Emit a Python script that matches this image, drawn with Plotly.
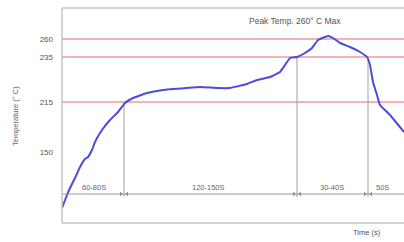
import plotly.graph_objects as go

# ---- data (display units: x = time axis units, y = temperature axis units) ----
time_pts = [0, 5, 8, 13, 18, 23, 26, 30, 33, 40, 48, 56, 63, 71, 85, 101, 125, 138,
            155, 168, 185, 195, 208, 218, 223, 228, 235, 243, 250, 256, 266, 271,
            278, 288, 298, 305, 308, 311, 315, 318, 328, 342]
temp_pts = [15, 28, 35, 45, 56, 64, 66, 73, 81, 93, 103, 111, 120, 125, 130, 133, 135, 136,
            135, 135, 139, 143, 146, 151, 158, 165, 166, 170, 175, 183, 187, 185,
            180, 176, 171, 166, 158, 141, 128, 118, 108, 91]

tick_vals = [184, 166, 121, 71]
tick_text = ["260", "235", "215", "150"]
limit_lines = [184, 166, 121]

boundary_x = [62, 235, 306]
boundary_top = [121, 166, 166]
phase_labels = ["60-80S", "120-150S", "30-40S", "50S"]
phase_label_x = [32, 146, 270, 320]

X_MAX = 342
Y_MAX = 215
DIM_Y = 29
VLINE_BOTTOM = 26
LABEL_Y = 36

W, H = 404, 242
ML, MR, MT, MB = 62, 0, 8, 19
PW, PH = W - ML - MR, H - MT - MB

FONT = "Liberation Sans, Arial, sans-serif"


def px_to_paper(px, py):
    return (px - ML) / PW, (H - MB - py) / PH


fig = go.Figure()

# red limit lines
for yv in limit_lines:
    fig.add_shape(type="line", xref="x", yref="y", x0=0, x1=X_MAX, y0=yv, y1=yv,
                  line=dict(color="#f29a9a", width=1.6), layer="below")

# dimension line
fig.add_shape(type="line", xref="x", yref="y", x0=0, x1=X_MAX, y0=DIM_Y, y1=DIM_Y,
              line=dict(color="#9a9a9a", width=1))

# vertical phase boundaries
for bx, bt in zip(boundary_x, boundary_top):
    fig.add_trace(go.Scatter(x=[bx, bx], y=[bt, VLINE_BOTTOM], mode="lines",
                             line=dict(color="#a0a0a0", width=1), hoverinfo="skip",
                             showlegend=False))

# arrow heads near boundaries
arrow_x, arrow_sym = [], []
for bx in boundary_x:
    arrow_x += [bx - 3, bx + 3]
    arrow_sym += ["triangle-right", "triangle-left"]
fig.add_trace(go.Scatter(x=arrow_x, y=[DIM_Y] * len(arrow_x), mode="markers",
                         marker=dict(symbol=arrow_sym, size=4, color="#888888"),
                         hoverinfo="skip", showlegend=False))

# temperature profile
fig.add_trace(go.Scatter(x=time_pts, y=temp_pts, mode="lines",
                         line=dict(color="#4b4bdc", width=2, shape="spline", smoothing=0.3),
                         showlegend=False))

# phase labels
for lbl, lx in zip(phase_labels, phase_label_x):
    fig.add_annotation(x=lx, y=LABEL_Y, xref="x", yref="y", text=lbl, showarrow=False,
                       font=dict(family=FONT, size=7.5, color="#666666"))

# frame lines (left, top, bottom)
frame = dict(color="#c4c4c4", width=1.5)
fig.add_shape(type="line", xref="paper", yref="paper", x0=0, x1=0, y0=0, y1=1, line=frame)
fig.add_shape(type="line", xref="paper", yref="paper", x0=0, x1=1, y0=1, y1=1, line=frame)
fig.add_shape(type="line", xref="paper", yref="paper", x0=0, x1=1, y0=0, y1=0, line=frame)

# peak text
fig.add_annotation(x=233, y=202, xref="x", yref="y", text="Peak Temp. 260° C Max",
                   showarrow=False, font=dict(family=FONT, size=8.5, color="#555555"))

# axis titles
tx, ty = px_to_paper(15, 116)
fig.add_annotation(x=tx, y=ty, xref="paper", yref="paper", text="Temperature (° C)",
                   textangle=-90, showarrow=False, xanchor="center", yanchor="middle",
                   font=dict(family=FONT, size=7.5, color="#666666"))
tx, ty = px_to_paper(367, 232)
fig.add_annotation(x=tx, y=ty, xref="paper", yref="paper", text="Time (s)",
                   showarrow=False, xanchor="center", yanchor="middle",
                   font=dict(family=FONT, size=7.5, color="#555555"))

fig.update_layout(
    width=W, height=H,
    margin=dict(l=ML, r=MR, t=MT, b=MB),
    paper_bgcolor="white", plot_bgcolor="white",
    xaxis=dict(range=[0, X_MAX], showgrid=False, zeroline=False, showticklabels=False,
               ticks="", showline=False),
    yaxis=dict(range=[0, Y_MAX], showgrid=False, zeroline=False, tickvals=tick_vals,
               ticktext=tick_text, ticks="", showline=False, ticklabelstandoff=8,
               tickfont=dict(family=FONT, size=8, color="#555555")),
)

fig.write_html("out.html", config={"displayModeBar": False},
               post_script="document.body.style.margin='0';document.body.style.overflow='hidden';")
